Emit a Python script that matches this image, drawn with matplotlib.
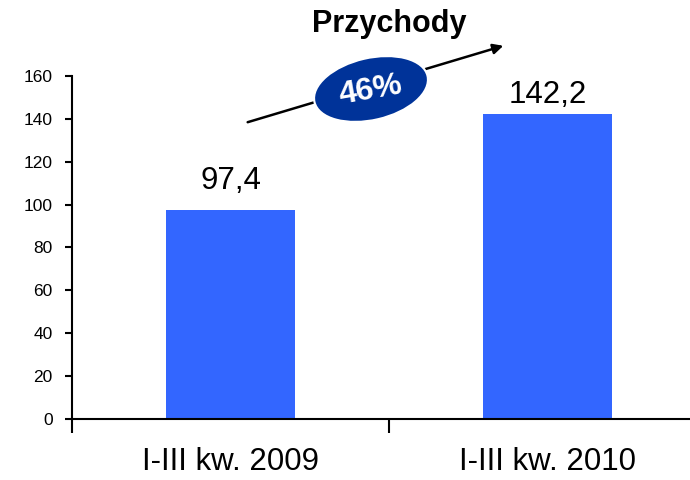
import matplotlib
matplotlib.use("Agg")
import matplotlib.pyplot as plt
from matplotlib.patches import Ellipse, FancyArrowPatch

plt.rcParams['font.family'] = ['Liberation Sans', 'DejaVu Sans']

categories = ["I-III kw. 2009", "I-III kw. 2010"]
values = [97.4, 142.2]
value_labels = ["97,4", "142,2"]
yticks = [0, 20, 40, 60, 80, 100, 120, 140, 160]
title = "Przychody"
growth_label = "46%"

fig = plt.figure(figsize=(6.9, 4.8), dpi=100)
ax = fig.add_axes([72/690, 61/480, 618/690, 343/480])

x = list(range(len(categories)))
bars = ax.bar(x, values, width=0.405, color="#3366FF", zorder=2)
ax.set_yticks(yticks)
ax.set_yticklabels([str(v) for v in yticks], fontsize=12.5)
ax.tick_params(axis='y', direction='out', length=5, width=1.5, pad=9)

ax.set_xticks(x)
ax.set_xticklabels(categories, fontsize=22.5)
ax.tick_params(axis='x', which='major', length=0, pad=20)
ax.set_xticks([-0.5, 0.5, 1.5], minor=True)
ax.tick_params(axis='x', which='minor', direction='out', length=10, width=1.5)
ax.set_xlim(-0.5, -0.5 + 618/317)
ax.set_ylim(0, 160)

for s in ['top', 'right']:
    ax.spines[s].set_visible(False)
for s in ['left', 'bottom']:
    ax.spines[s].set_linewidth(1.5)

offsets = [10, 3]
for xi, v, lab, off in zip(x, values, value_labels, offsets):
    ax.annotate(lab, (xi, v), xytext=(0, off), textcoords='offset points',
                ha='center', va='bottom', fontsize=22.5)

# overlay in pixel coordinates for title / arrow / ellipse
ov = fig.add_axes([0, 0, 1, 1])
ov.set_xlim(0, 690)
ov.set_ylim(480, 0)
ov.axis('off')
ov.patch.set_alpha(0)

ov.text(389, 24, title, ha='center', va='center', fontsize=22, fontweight='bold')
arr = FancyArrowPatch((245, 123), (506, 45), arrowstyle='-|>', mutation_scale=15,
                      color='black', lw=1.8)
ov.add_patch(arr)
ell = Ellipse((371, 89), 116, 62, angle=-13, facecolor='#003399',
              edgecolor='white', lw=1.5, zorder=3)
ov.add_patch(ell)
ov.text(371, 91, growth_label, ha='center', va='center', fontsize=23,
        fontweight='bold', color='white', rotation=10, zorder=4)

fig.savefig("out.png", dpi=100)
